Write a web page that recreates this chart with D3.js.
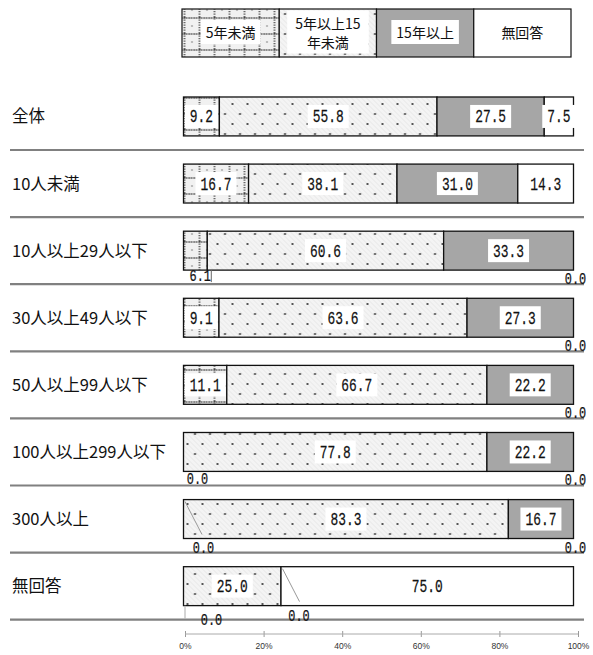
<!DOCTYPE html>
<html><head><meta charset="utf-8">
<script src="https://cdn.jsdelivr.net/npm/d3@7"></script>
<style>body{margin:0;background:#fff}svg{display:block}</style>
</head><body><svg id="c" width="593" height="655"></svg>
<script>
const categories = ["全体","10人未満","10人以上29人以下","30人以上49人以下","50人以上99人以下","100人以上299人以下","300人以上","無回答"];
const seriesNames = ["5年未満","5年以上15年未満","15年以上","無回答"];
const under5 = [9.2,16.7,6.1,9.1,11.1,0.0,0.0,0.0];
const from5to15 = [55.8,38.1,60.6,63.6,66.7,77.8,83.3,25.0];
const over15 = [27.5,31.0,33.3,27.3,22.2,22.2,16.7,0.0];
const noAnswer = [7.5,14.3,0.0,0.0,0.0,0.0,0.0,75.0];
const tickValues = [0,20,40,60,80,100];
const tickLabels = ["0%","20%","40%","60%","80%","100%"];

const svg = d3.select("#c");
const x = d3.scaleLinear().domain([0,100]).range([183.5,573.5]);
const xAxisScale = d3.scaleLinear().domain([0,100]).range([185,578]);
const y = d3.scaleBand().domain(categories).range([82.9,619.7]).paddingInner(0.42).paddingOuter(0.21);
const legendX = d3.scaleBand().domain(seriesNames).range([182,571]);
const fills = ["url(#p0)","url(#p1)","#a6a6a6","#ffffff"];
const NUMFONT = "'Liberation Mono','DejaVu Sans Mono',monospace";
const JPFONT = "'Noto Sans CJK JP','Noto Sans',sans-serif";

// patterns
const defs = svg.append("defs");
const p0 = defs.append("pattern").attr("id","p0").attr("patternUnits","userSpaceOnUse")
  .attr("x",183.5).attr("y",1).attr("width",15).attr("height",16);
p0.append("rect").attr("width",15).attr("height",16).attr("fill","#f1f1f1");
p0.append("line").attr("x1",1).attr("y1",0).attr("x2",1).attr("y2",16)
  .attr("stroke","#222").attr("stroke-width",1.3).attr("stroke-dasharray","1.3 1.2");
p0.append("line").attr("x1",0).attr("y1",1).attr("x2",15).attr("y2",1)
  .attr("stroke","#222").attr("stroke-width",1.3).attr("stroke-dasharray","1.3 1.2");
p0.append("circle").attr("cx",8.5).attr("cy",9).attr("r",0.7).attr("fill","#555");

const p1 = defs.append("pattern").attr("id","p1").attr("patternUnits","userSpaceOnUse")
  .attr("x",183.5).attr("y",0).attr("width",15).attr("height",20);
p1.append("rect").attr("width",15).attr("height",20).attr("fill","#f4f4f4");
[-15,-10,-5,0,5,10,15].forEach(o=>{
  p1.append("line").attr("x1",o).attr("y1",0).attr("x2",o+20).attr("y2",20)
    .attr("stroke","#e0e0e0").attr("stroke-width",0.7);
});
p1.append("circle").attr("cx",4).attr("cy",4).attr("r",1).attr("fill","#222");
p1.append("circle").attr("cx",11.5).attr("cy",14).attr("r",1).attr("fill","#222");

// legend
const lg = svg.append("g");
seriesNames.forEach((s,i)=>{
  lg.append("rect").attr("x",legendX(s)).attr("y",9).attr("width",legendX.bandwidth()).attr("height",48)
    .attr("fill",fills[i]).attr("stroke","#111").attr("stroke-width",1.2);
  const lines = s.length > 6 ? [s.slice(0,6), s.slice(6)] : [s];
  const cx = legendX(s)+legendX.bandwidth()/2;
  const gbox = lg.append("rect").attr("fill","#fff");
  const t = lg.append("text").attr("text-anchor","middle").attr("font-family",JPFONT)
    .attr("font-size",14).attr("fill","#111");
  const lh = 19;
  const startY = 33 - (lines.length-1)*lh/2 + 5;
  lines.forEach((l,k)=>t.append("tspan").attr("x",cx).attr("y",startY+k*lh).text(l));
  const bb = t.node().getBBox();
  const padX = lines.length>1 ? 8 : 5;
  gbox.attr("x",bb.x-padX).attr("y",bb.y-2).attr("width",bb.width+2*padX).attr("height",bb.height+4);
});

// separators
svg.append("g").selectAll("line").data(categories).join("line")
  .attr("x1",10).attr("x2",584)
  .attr("y1",d=>y(d)+y.bandwidth()+(y.step()-y.bandwidth())/2)
  .attr("y2",d=>y(d)+y.bandwidth()+(y.step()-y.bandwidth())/2)
  .attr("stroke","#808080").attr("stroke-width",2.2);

// category labels
svg.append("g").selectAll("text").data(categories).join("text")
  .attr("x",12).attr("y",d=>y(d)+y.bandwidth()/2+6)
  .attr("font-family",JPFONT).attr("font-size",16.5).attr("fill","#111").text(d=>d);

// table
const table = categories.map((c,i)=>{
  const vals=[under5[i],from5to15[i],over15[i],noAnswer[i]];
  const sum = d3.sum(vals);
  let cum=0;
  return vals.map((v,s)=>{const o={row:i,cat:c,s,v,x0:cum/sum*100,x1:(cum+v)/sum*100}; cum+=v; return o;});
});
const segs = table.flat();

svg.append("g").selectAll("rect").data(segs.filter(d=>d.v>0)).join("rect")
  .attr("x",d=>x(d.x0)).attr("width",d=>x(d.x1)-x(d.x0))
  .attr("y",d=>y(d.cat)).attr("height",y.bandwidth())
  .attr("fill",d=>fills[d.s]).attr("stroke","#111").attr("stroke-width",1.3);

// labels
const fmt = d3.format(".1f");
const lab = svg.append("g");
// outside label layout tweaks (layout only)
const outsideLayout = {
  "2-0": {anchor:"end", dx:-7, dy:11, leader:"short"},
  "5-0": {anchor:"start", dx:14, dy:13},
  "6-0": {anchor:"start", dx:20, dy:14, leader:"diag"},
  "7-0": {anchor:"start", dx:28, dy:19, leader:"vert"},
  "7-2": {anchor:"start", dx:18, dy:15, leader:"diag"}
};
segs.forEach(d=>{
  const w = x(d.x1)-x(d.x0);
  const top = y(d.cat), bot = top + y.bandwidth(), mid = top + y.bandwidth()/2;
  const txt = fmt(d.v);
  if (w >= 28) {
    const cx = (x(d.x0)+x(d.x1))/2;
    const box = lab.append("rect").attr("fill","#fff");
    const t = lab.append("text").attr("transform",`translate(${cx},${mid+6}) scale(0.68,1)`)
      .attr("text-anchor","middle").attr("font-family",NUMFONT).attr("font-size",19)
      .attr("fill","#111").attr("stroke","#111").attr("stroke-width",0.25).text(txt);
    const tw = t.node().getComputedTextLength()*0.68;
    box.attr("x",cx-tw/2-5).attr("y",mid-11.5).attr("width",tw+10).attr("height",23);
  } else {
    const key = d.row+"-"+d.s;
    let L = outsideLayout[key];
    let cx, by;
    if (!L) {
      if (d.s===3) { cx = x(d.x1)+2; by = bot+14; }
      else { cx = x(d.x0)+14; by = bot+14; }
    } else {
      const ax = L.anchor==="end" ? x(d.x1) : x(d.x0);
      cx = ax + L.dx; by = bot + L.dy;
      if (L.leader==="diag") {
        lab.append("line").attr("x1",x(d.x0)+1.5).attr("y1",top+2).attr("x2",x(d.x0)+18.5).attr("y2",bot-4)
          .attr("stroke","#999").attr("stroke-width",1);
      } else if (L.leader==="vert") {
        lab.append("line").attr("x1",x(d.x0)+1.5).attr("y1",bot).attr("x2",x(d.x0)+1.5).attr("y2",bot+13)
          .attr("stroke","#aaa").attr("stroke-width",1);
      } else if (L.leader==="short") {
        lab.append("line").attr("x1",x(d.x1)+4).attr("y1",bot).attr("x2",x(d.x1)+4).attr("y2",bot+12)
          .attr("stroke","#666").attr("stroke-width",1);
      }
    }
    lab.append("text").attr("transform",`translate(${cx},${by}) scale(0.7,1)`)
      .attr("text-anchor","middle").attr("font-family",NUMFONT).attr("font-size",17)
      .attr("fill","#111").attr("stroke","#111").attr("stroke-width",0.25).text(txt);
  }
});

// axis
const ag = svg.append("g").attr("transform","translate(0,631)");
ag.call(d3.axisBottom(xAxisScale).tickValues(tickValues).tickFormat((d,i)=>tickLabels[i]).tickSize(6));
ag.select(".domain").remove();
ag.selectAll(".tick line").attr("stroke","#999");
ag.selectAll(".tick text").attr("y",12).attr("font-family","'Liberation Sans',sans-serif").attr("font-size",8.5).attr("fill","#333");
svg.append("line").attr("x1",xAxisScale(0)).attr("x2",xAxisScale(100)).attr("y1",634).attr("y2",634)
  .attr("stroke","#aaa").attr("stroke-width",1);
</script></body></html>
